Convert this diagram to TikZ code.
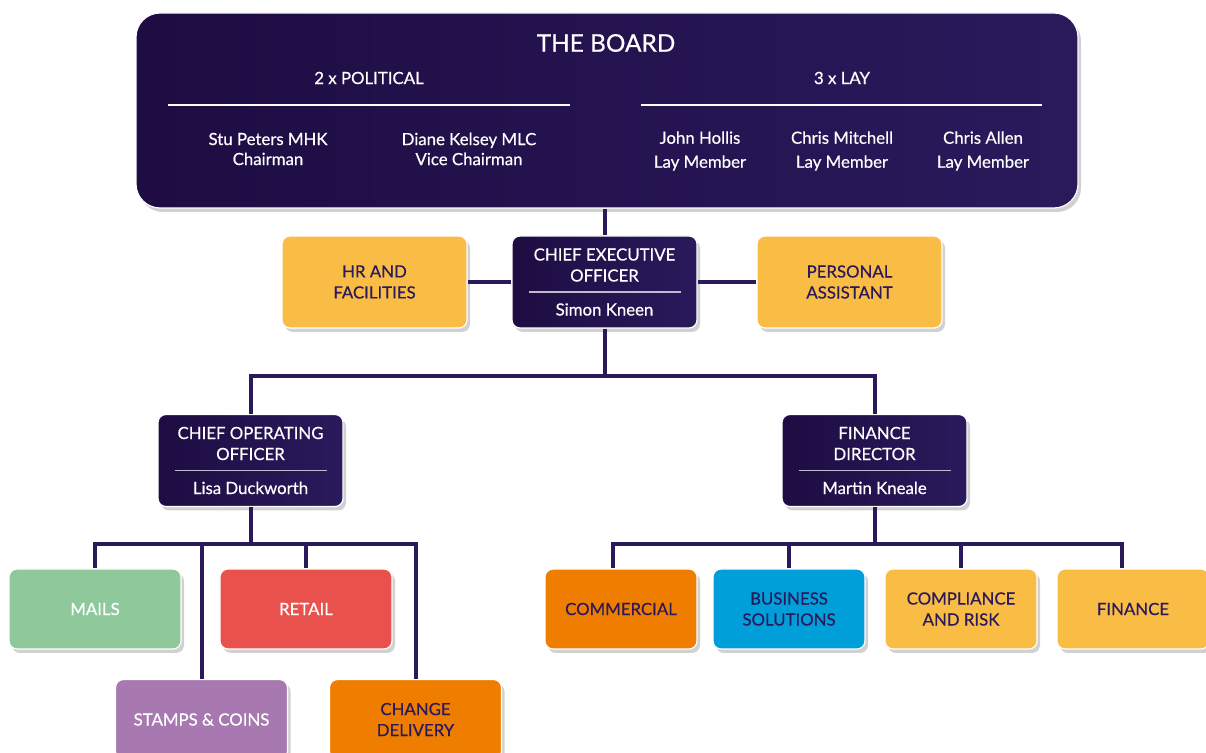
\documentclass[tikz,border=0pt]{standalone}
\usepackage{fontspec}
\setmainfont{Lato}[FakeBold=0.5]
\usetikzlibrary{shadows}
\definecolor{navyL}{RGB}{30,12,66}
\definecolor{navyR}{RGB}{42,26,92}
\definecolor{ink}{RGB}{42,26,92}
\definecolor{sun}{RGB}{249,188,69}
\definecolor{mint}{RGB}{143,200,154}
\definecolor{coral}{RGB}{233,81,77}
\definecolor{lilac}{RGB}{168,120,176}
\definecolor{amber}{RGB}{239,125,0}
\definecolor{sky}{RGB}{0,159,218}
\newcommand{\sepline}{{\color{white!70!navyR}\rule{76pt}{0.6pt}}}
\begin{document}
\begin{tikzpicture}[x=0.5pt, y=-0.5pt,
font=\fontsize{8.4}{10.5}\selectfont,
shade/.style={drop shadow={shadow xshift=1.5pt, shadow yshift=-2pt, opacity=0.18, fill=black}},
boardbox/.style={rectangle, rounded corners=12pt, draw=white, line width=0.6pt, left color=navyL, right color=navyR, minimum width=471pt, minimum height=97.5pt, shade},
boardtext/.style={text=white, align=center},
headnode/.style={rectangle, rounded corners=4pt, draw=white, line width=0.6pt, left color=navyL, right color=navyR, text=white, align=center, minimum width=92.5pt, minimum height=46pt, shade},
staffnode/.style={rectangle, rounded corners=4pt, draw=white, line width=0.6pt, fill=sun, text=ink, align=center, minimum width=92.5pt, minimum height=46pt, shade},
unitnode/.style={rectangle, rounded corners=4pt, draw=white, line width=0.6pt, align=center, minimum width=86pt, minimum height=40pt, shade},
smallunit/.style={unitnode, minimum width=76pt},
link/.style={draw=ink, line width=2pt},
]
\useasboundingbox (0,0) rectangle (1206,753);
\clip (0,0) rectangle (1206,753);
%Board
\node[boardbox] at (607,110.5) (board) {};
\node[boardtext, font=\fontsize{12.2}{14}\selectfont] at (606,43) (title) {THE BOARD};
\node[boardtext] at (369,78) (pol) {2 x POLITICAL};
\node[boardtext] at (842,78) (lay) {3 x LAY};
\draw[white, line width=0.6pt] (168,105) -- (570,105);
\draw[white, line width=0.6pt] (641,105) -- (1042,105);
\node[boardtext, font=\fontsize{8.4}{10}\selectfont] at (268,149) (stu) {Stu Peters MHK\\Chairman};
\node[boardtext, font=\fontsize{8.4}{10}\selectfont] at (469,149) (diane) {Diane Kelsey MLC\\Vice Chairman};
\node[boardtext, font=\fontsize{8.4}{12}\selectfont] at (700,151) (john) {John Hollis\\Lay Member};
\node[boardtext, font=\fontsize{8.4}{12}\selectfont] at (842,151) (mitchell) {Chris Mitchell\\Lay Member};
\node[boardtext, font=\fontsize{8.4}{12}\selectfont] at (983,151) (allen) {Chris Allen\\Lay Member};
%Nodes
\node[headnode] at (604.5,282) (ceo) {CHIEF EXECUTIVE\\OFFICER\\[-5pt]\sepline\\[1pt]Simon Kneen};
\node[staffnode] at (374.5,282) (hr) {HR AND\\FACILITIES};
\node[staffnode] at (849.5,282) (pa) {PERSONAL\\ASSISTANT};
\node[headnode] at (250.5,460.5) (coo) {CHIEF OPERATING\\OFFICER\\[-5pt]\sepline\\[1pt]Lisa Duckworth};
\node[headnode] at (874.5,460.5) (fd) {FINANCE\\DIRECTOR\\[-5pt]\sepline\\[1pt]Martin Kneale};
\node[unitnode, fill=mint, text=white] at (95,609) (mails) {MAILS};
\node[unitnode, fill=coral, text=white] at (306,609) (retail) {RETAIL};
\node[unitnode, fill=lilac, text=white] at (201.5,719.5) (stamps) {STAMPS \& COINS};
\node[unitnode, fill=amber, text=ink] at (415.5,719.5) (change) {CHANGE\\DELIVERY};
\node[smallunit, fill=amber, text=ink] at (621,609) (commercial) {COMMERCIAL};
\node[smallunit, fill=sky, text=ink] at (789,609) (business) {BUSINESS\\SOLUTIONS};
\node[smallunit, fill=sun, text=ink] at (961,609) (compliance) {COMPLIANCE\\AND RISK};
\node[smallunit, fill=sun, text=ink] at (1133,609) (finance) {FINANCE};
%Lines
\draw[link] (ceo.north) -- (ceo.north |- board.south);
\draw[link] (hr.east) -- (ceo.west);
\draw[link] (ceo.east) -- (pa.west);
\draw[link] (ceo.south) -- ++(0,47) -| (coo.north);
\draw[link] (ceo.south) -- ++(0,47) -| (fd.north);
\draw[link] (coo.south) -- ++(0,37) -| (mails.north);
\draw[link] (coo.south) -- ++(0,37) -| (stamps.north);
\draw[link] (coo.south) -- ++(0,37) -| (retail.north);
\draw[link] (coo.south) -- ++(0,37) -| (change.north);
\draw[link] (fd.south) -- ++(0,37) -| ([xshift=-4pt]commercial.north);
\draw[link] (fd.south) -- ++(0,37) -| (business.north);
\draw[link] (fd.south) -- ++(0,37) -| (compliance.north);
\draw[link] (fd.south) -- ++(0,37) -| ([xshift=-5.5pt]finance.north);
\end{tikzpicture}
\end{document}
